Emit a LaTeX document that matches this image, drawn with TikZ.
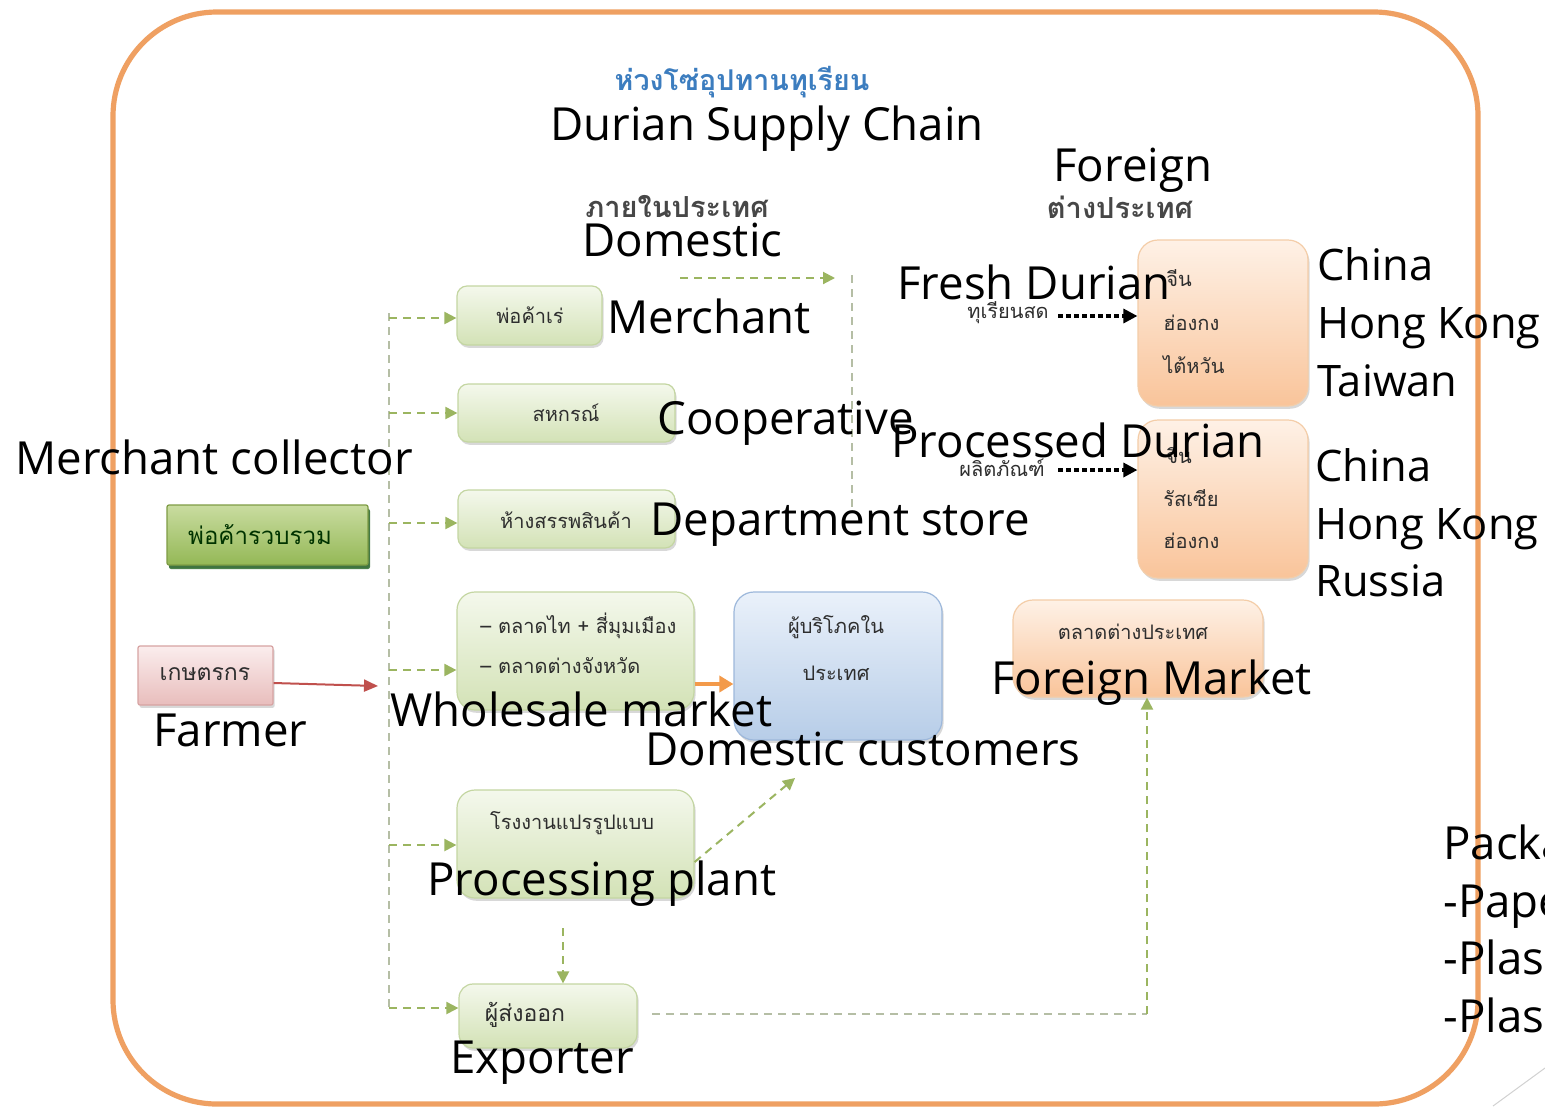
\documentclass[tikz,border=0pt]{standalone}
\usepackage{fontspec}
\setmainfont{Open Sans}
\newfontfamily\thai[Script=Thai]{Loma}
\usetikzlibrary{arrows.meta,shadows}
\definecolor{frame}{HTML}{EFA062}
\definecolor{gtop}{HTML}{F4F8EC}
\definecolor{gbot}{HTML}{D3E2B6}
\definecolor{gdraw}{HTML}{C4D6A2}
\definecolor{ctop}{HTML}{C9DCA0}
\definecolor{cbot}{HTML}{94B856}
\definecolor{cdraw}{HTML}{7E9C45}
\definecolor{ptop}{HTML}{FBEDED}
\definecolor{pbot}{HTML}{E8BDBC}
\definecolor{pdraw}{HTML}{D7A3A2}
\definecolor{btop}{HTML}{EAF1FA}
\definecolor{bbot}{HTML}{B7CDE8}
\definecolor{bdraw}{HTML}{9DB8DB}
\definecolor{otop}{HTML}{FEF1E6}
\definecolor{obot}{HTML}{F9C49A}
\definecolor{odraw}{HTML}{F4CDA8}
\definecolor{arrg}{HTML}{9BB560}
\definecolor{lineg}{HTML}{B5BEA5}
\definecolor{thaiblue}{HTML}{3C7DBF}
\definecolor{orangearr}{HTML}{F39A4A}
\definecolor{redarr}{HTML}{C0504D}
\begin{document}
\begin{tikzpicture}[x=0.5pt,y=-0.5pt,
  box/.style={rounded corners=5pt, line width=0.6pt, inner sep=0pt,
    drop shadow={shadow xshift=0.8pt, shadow yshift=-1.4pt, opacity=0.3}},
  gbox/.style={box, draw=gdraw, top color=gtop, bottom color=gbot},
  cbox/.style={box, rounded corners=1pt, draw=cdraw, top color=ctop, bottom color=cbot,
    drop shadow={shadow xshift=1pt, shadow yshift=-2pt, opacity=0.7, fill=black!70!green}},
  pbox/.style={box, rounded corners=1pt, draw=pdraw, top color=ptop, bottom color=pbot},
  bbox/.style={box, rounded corners=10pt, draw=bdraw, top color=btop, bottom color=bbot},
  obox/.style={box, rounded corners=10pt, draw=odraw, top color=otop, bottom color=obot},
  en/.style={font=\fontsize{22.8}{26}\selectfont, inner sep=0pt, anchor=base west},
  enr/.style={en, font=\fontsize{21.7}{26}\selectfont},
  th/.style={font=\thai\fontsize{10}{12}\selectfont, text=black!82, inner sep=0pt},
  thb/.style={font=\thai\bfseries\fontsize{14.5}{16}\selectfont, text=black!72, inner sep=0pt},
  garr/.style={draw=arrg, line width=1pt, dash pattern=on 4pt off 3pt,
    -{Triangle[length=6pt,width=6pt]}},
  gline/.style={draw=lineg, line width=0.8pt, dash pattern=on 4pt off 3pt},
  karr/.style={draw=black, line width=1.6pt, dash pattern=on 2.5pt off 1.5pt,
    -{Triangle[length=7pt,width=7pt]}},
]
\useasboundingbox (0,0) rectangle (1545,1109);
\fill[white] (0,0) rectangle (1545,1109);

% outer frame
\draw[frame, line width=2.6pt, rounded corners=52pt] (113,12) rectangle (1478,1104);
\draw[black!18, line width=0.5pt] (1493,1106) -- (1545,1068);

% title
\node[font=\thai\bfseries\fontsize{14.3}{17}\selectfont, text=thaiblue, inner sep=0pt] (ttitle) at (742,82) {ห่วงโซ่อุปทานทุเรียน};
\node[en, anchor=base] (etitle) at (767,140) {Durian Supply Chain};
\node[thb] (tdom) at (677,207) {ภายในประเทศ};
\node[thb] (tfor) at (1120,207) {ต่างประเทศ};

% boxes
\node[gbox, minimum width=72.5pt, minimum height=29.5pt] (merchant) at (529.5,315.5) {};
\node[gbox, minimum width=108.5pt, minimum height=29pt] (coop) at (566.5,413) {};
\node[gbox, minimum width=108.5pt, minimum height=29pt] (dept) at (566.5,519) {};
\node[gbox, rounded corners=9pt, minimum width=118.5pt, minimum height=59pt] (whole) at (575.5,651) {};
\node[bbox, minimum width=104pt, minimum height=74pt] (domc) at (838,666) {};
\node[gbox, rounded corners=9pt, minimum width=118.5pt, minimum height=54pt] (proc) at (575.5,844) {};
\node[gbox, rounded corners=7pt, minimum width=89pt, minimum height=32pt] (export) at (548,1016) {};
\node[cbox, minimum width=100.5pt, minimum height=30pt] (collector) at (267.5,535) {};
\node[pbox, minimum width=67.5pt, minimum height=29.5pt] (farmer) at (205.5,675.5) {};
\node[obox, minimum width=85pt, minimum height=83pt] (fresh) at (1223,323) {};
\node[obox, minimum width=85pt, minimum height=79pt] (processed) at (1223,499) {};
\node[obox, minimum width=125pt, minimum height=48.5pt] (fmarket) at (1138,648.5) {};

% thai texts in boxes
\node[th] (tmerch) at (530,315) {พ่อค้าเร่};
\node[th] (tcoop) at (566,413) {สหกรณ์};
\node[th] (tdept) at (566,520) {ห้างสรรพสินค้า};
\node[th, anchor=west] (twh1) at (480,626) {– ตลาดไท + สี่มุมเมือง};
\node[th, anchor=west] (twh2) at (480,666) {– ตลาดต่างจังหวัด};
\node[th] (tdc1) at (836,627) {ผู้บริโภคใน};
\node[th] (tdc2) at (836,673) {ประเทศ};
\node[th] (tproc) at (572,823) {โรงงานแปรรูปแบบ};
\node[th, font=\thai\fontsize{11.5}{13}\selectfont] (texp) at (525,1015) {ผู้ส่งออก};
\node[th, font=\thai\fontsize{12}{14}\selectfont, text=black!80!green] (tcoll) at (260,535) {พ่อค้ารวบรวม};
\node[th, font=\thai\fontsize{11.5}{13}\selectfont] (tfarm) at (205,674) {เกษตรกร};
\node[th, anchor=west] (tf1) at (1166,278) {จีน};
\node[th, anchor=west] (tf2) at (1163,323) {ฮ่องกง};
\node[th, anchor=west] (tf3) at (1163,365) {ไต้หวัน};
\node[th, anchor=west] (tp1) at (1166,455) {จีน};
\node[th, anchor=west] (tp2) at (1163,498) {รัสเซีย};
\node[th, anchor=west] (tp3) at (1163,541) {ฮ่องกง};
\node[th] (tfm) at (1133,632) {ตลาดต่างประเทศ};
\node[th] (tfreshd) at (1008,313) {ทุเรียนสด};
\node[th] (tprocd) at (1002,468) {ผลิตภัณฑ์};

% connectors
\coordinate (ttop) at (389,313);
\coordinate (tbot) at (389,1008);
\draw[gline] (ttop) -- (tbot);
\foreach \n/\yy in {merchant/318, coop/413, dept/523, whole/670, proc/845, export/1008}{
  \coordinate (b\n) at (389,\yy);
  \draw[garr] (b\n) -- (b\n -| \n.west);
}
\coordinate (farmerend) at (378,686);
\draw[redarr, line width=1pt, -{Triangle[length=7pt,width=6pt]}] (farmer.east |- 0,683) -- (farmerend);
\draw[orangearr, line width=2.2pt, -{Triangle[length=7pt,width=8pt]}] (whole.east |- 0,684) -- (domc.west |- 0,684);

\coordinate (brs) at (680,278);
\coordinate (bre) at (835,278);
\draw[garr] (brs) -- (bre);
\coordinate (bv1) at (852,275);
\coordinate (bv2) at (852,512);
\draw[gline] (bv1) -- (bv2);

\coordinate (diagend) at (795,778);
\draw[garr] (proc.east |- 0,862) -- (diagend);
\draw[garr] (563,928) -- (export.north -| 563,0);

\coordinate (corner) at (1147,1014);
\draw[gline] (652,1014) -- (corner);
\draw[garr] (corner) -- (fmarket.south -| corner);

\coordinate (fa1) at (1058,316);
\draw[karr] (fa1) -- (fresh.west |- fa1);
\coordinate (fa2) at (1058,470);
\draw[karr] (fa2) -- (processed.west |- fa2);

% english labels
\node[en] (lforeign) at (1053,181) {Foreign};
\node[en] (ldomestic) at (582,256) {Domestic};
\node[en] (lmerch) at (607,333) {Merchant};
\node[en] (lcoop) at (657,434) {Cooperative};
\node[en] (ldept) at (650,535) {Department store};
\node[en] (lcoll) at (15,474) {Merchant collector};
\node[en] (lfarm) at (153,746) {Farmer};
\node[en] (lwhole) at (390,726) {Wholesale market};
\node[en] (ldomc) at (645,765) {Domestic customers};
\node[en] (lproc) at (427,895) {Processing plant};
\node[en] (lexp) at (450,1073) {Exporter};
\node[en] (lfm) at (991,694) {Foreign Market};
\node[en] (lfresh) at (897,299) {Fresh Durian};
\node[en] (lprocd) at (891,457) {Processed Durian};
\node[enr] (c1) at (1317,280) {China};
\node[enr] (c2) at (1317,338) {Hong Kong};
\node[enr] (c3) at (1317,396) {Taiwan};
\node[enr] (d1) at (1315,481) {China};
\node[enr] (d2) at (1315,539) {Hong Kong};
\node[enr] (d3) at (1315,596) {Russia};
\node[en] (p1) at (1443,859) {Packa};
\node[en] (p2) at (1443,917) {-Pape};
\node[en] (p3) at (1443,974) {-Plas};
\node[en] (p4) at (1443,1032) {-Plas};
\end{tikzpicture}
\end{document}
